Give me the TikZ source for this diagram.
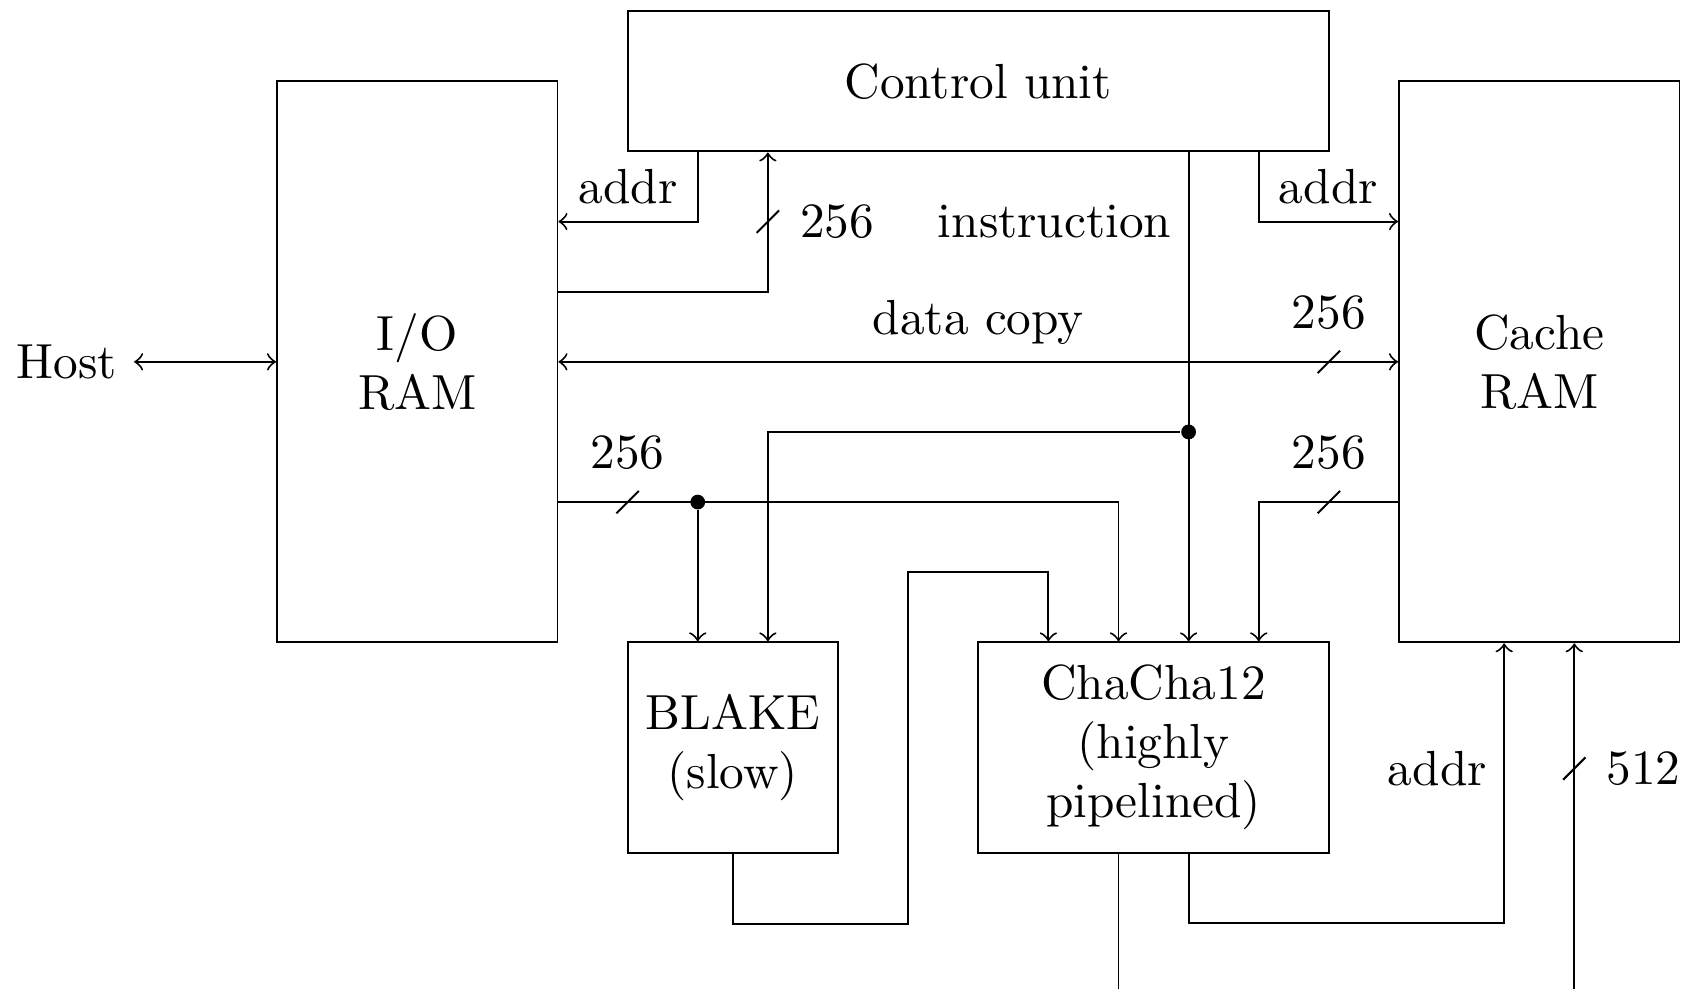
\documentclass[tikz,border=0pt]{standalone}
\usepackage{tikz}
\usetikzlibrary{calc}
\tikzset{
  block/.style={rectangle,draw,align=center,inner sep=0pt},
  wire/.style={->},
  junction/.style={circle,fill,inner sep=0pt,minimum size=3pt},
}

\begin{document}
\begin{tikzpicture}[x=0.5cm,y=-0.5cm,
      ram/.style={block,minimum width=2cm,minimum height=4cm},
      core/.style={block,minimum height=1.5cm},
    ]
    \useasboundingbox (0.05,-0.16) rectangle (24.05,13.94);

    \node (host) at (1,5) {Host};
    \node[block,minimum width=5cm,minimum height=1cm] (cu) at (14,1) {Control unit};
    \node[ram] (io) at (6,5) {I/O\\RAM};
    \node[ram] (cache) at (22,5) {Cache\\RAM};
    \node[core,minimum width=1.5cm] (blake) at (10.5,10.5) {BLAKE\\(slow)};
    \node[core,minimum width=2.5cm] (chacha) at (16.5,10.5) {ChaCha12\\(highly\\pipelined)};

    \node[junction] (jins) at (17,6) {};
    \node[junction] (jio) at (10,7) {};
    \coordinate (out) at (16,14);
    \coordinate (in) at (22.5,14);

    % host and copy bus
    \draw[<->] (host) -- (io);
    \draw[<->] (io) -- node[above] (lcopy) {data copy} (cache);

    % control unit
    \draw[wire] (cu.south -| 10,0) |- node[pos=0.75,above] (laddr1) {addr} (io.east |- 0,3);
    \draw[wire] (io.east |- 0,4) -| (cu.south -| 11,0);
    \draw[wire] (cu.south -| 18,0) |- node[pos=0.75,above] (laddr2) {addr} (cache.west |- 0,3);
    \draw[wire] (cu.south -| 17,0) -- (chacha.north -| 17,0);
    \draw[wire] (jins) -| (blake.north -| 11,0);
    \node[left] (lins) at (17,3) {instruction};

    % data into the cores
    \draw[wire] (io.east |- 0,7) -| (chacha.north -| 16,0);
    \draw[wire] (jio) -- (blake.north -| 10,0);
    \draw[wire] (cache.west |- 0,7) -| (chacha.north -| 18,0);
    \draw[wire] (blake.south) -- ++(0,1) -| (13,8) -| (chacha.north -| 15,0);

    % cores out
    \draw[wire] (chacha.south -| 17,0) |- (21.5,13) -- (cache.south -| 21.5,0);
    \node[left] (laddr3) at (21.5,10.8) {addr};
    \draw (chacha.south -| 16,0) -- (out);
    \draw[wire] (in) -- (cache.south -| 22.5,0);

    % bus widths
    \foreach \x/\y in {11/3,19/5,9/7,19/7,22.5/10.8}{
      \draw (\x,\y) ++(-0.16,0.16) -- ++(0.32,-0.32);
    }
    \node[right=3pt] (w1) at (11,3) {256};
    \node[above=3pt] (w2) at (19,5) {256};
    \node[above=3pt] (w3) at (9,7) {256};
    \node[above=3pt] (w4) at (19,7) {256};
    \node[right=3pt] (w5) at (22.5,10.8) {512};
  \end{tikzpicture}
\end{document}
